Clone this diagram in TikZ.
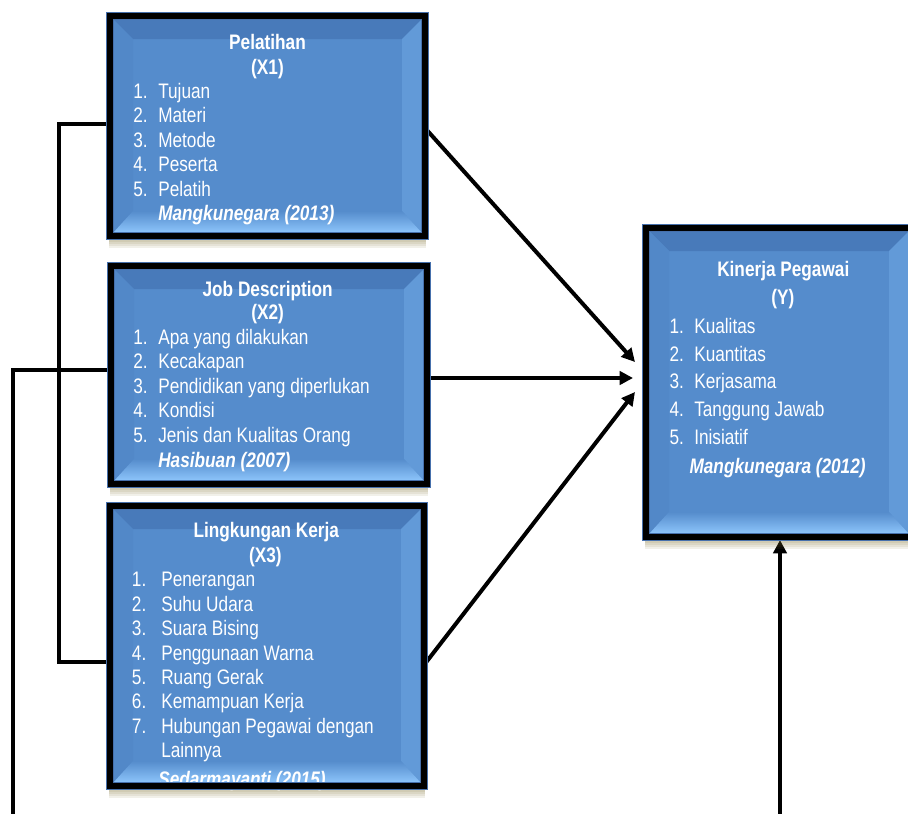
\documentclass[tikz,border=0pt]{standalone}
\usepackage{fontspec}
\setmainfont{Liberation Sans}[FakeStretch=0.82]
\usetikzlibrary{arrows.meta,calc,fit}
\definecolor{face}{RGB}{85,140,204}
\definecolor{bevtop}{RGB}{72,122,186}
\definecolor{bevleft}{RGB}{82,136,200}
\definecolor{bevright}{RGB}{98,154,216}
\definecolor{bevlight}{RGB}{142,198,252}
\definecolor{edgeblue}{RGB}{70,112,172}
\definecolor{shadowc}{RGB}{120,105,40}

\newcommand\boxbody[1]{%
  \foreach \k in {2,4,...,12}{\fill[shadowc,opacity=0.1] ($(#1.north west)+(-1,20)$) rectangle ($(#1.south east)+(1,\k)$);}
  \coordinate (#1A) at ($(#1.north west)+(3,3)$);
  \coordinate (#1B) at ($(#1.north east)+(-3,3)$);
  \coordinate (#1C) at ($(#1.south east)+(-3,-3)$);
  \coordinate (#1D) at ($(#1.south west)+(3,-3)$);
  \coordinate (#1a) at ($(#1A)+(20,20)$);
  \coordinate (#1b) at ($(#1B)+(-20,20)$);
  \coordinate (#1c) at ($(#1C)+(-20,-22)$);
  \coordinate (#1d) at ($(#1D)+(20,-22)$);
  \fill[face] (#1A) rectangle (#1C);
  \fill[bevtop] (#1A)--(#1B)--(#1b)--(#1a)--cycle;
  \fill[bevleft] (#1A)--(#1a)--(#1d)--(#1D)--cycle;
  \fill[bevright] (#1B)--(#1b)--(#1c)--(#1C)--cycle;
  \shade[top color=face,bottom color=bevlight] (#1D)--(#1d)--(#1c)--(#1C)--cycle;
}
\newcommand\boxborder[1]{%
  \draw[edgeblue,line width=6pt] (#1.north west) rectangle (#1.south east);
  \draw[black,line width=4.5pt] (#1.north west) rectangle (#1.south east);
}

\begin{document}
\begin{tikzpicture}[x=0.75pt,y=-0.75pt,
  boxfit/.style={inner sep=0pt,outer sep=0pt},
  conn/.style={black,line width=3pt},
  arr/.style={conn,-{Triangle[length=10pt,width=10pt]}},
  txt/.style={text=white,inner sep=0pt,anchor=base west,font=\fontsize{15.75pt}{18pt}\selectfont},
  ttl/.style={text=white,inner sep=0pt,anchor=base,font=\fontsize{15.75pt}{18pt}\selectfont\bfseries},
  cite/.style={text=white,inner sep=0pt,anchor=base west,font=\fontsize{15.75pt}{18pt}\selectfont\bfseries\itshape}]
\useasboundingbox (0,0) rectangle (908,814);
\clip (0,0) rectangle (908,814);

% box frames (border centre lines)
\node[boxfit,fit={(110,16) (425,236)}] (x1) {};
\node[boxfit,fit={(111,266) (427,484)}] (x2) {};
\node[boxfit,fit={(110,506) (424,786)}] (x3) {};
\node[boxfit,fit={(646,228) (912,537)}] (ybox) {};

% connectors
\coordinate (lk1) at (59,124);
\coordinate (lk2) at (59,662);
\draw[conn] (x1.west |- lk1) -- (lk1) -- (lk2) -- (x3.west |- lk2);
\coordinate (fl1) at (13,370);
\coordinate (fl2) at (13,830);
\draw[conn] (x2.west |- fl1) -- (fl1) -- (fl2);
\coordinate (bt) at (780,830);
\draw[arr] (bt) -- ($(ybox.south -| bt)+(0,3)$);
\draw[arr] ($(x1.east)+(0,2)$) -- ($(ybox.west)+(-11,-20.5)$);
\draw[arr] ($(x2.east)+(0,3)$) -- ($(ybox.west)+(-13,-4.5)$);
\draw[arr] ($(x3.east)+(0,19)$) -- ($(ybox.west)+(-11,9.5)$);

% box bodies
\boxbody{x1}
\boxbody{x2}
\boxbody{x3}
\boxbody{ybox}

% X1 text
\node[ttl] (x1t1) at (267.5,49.3) {Pelatihan};
\node[ttl] (x1t2) at (267.5,74.3) {(X1)};
\foreach \t [count=\i] in {Tujuan,Materi,Metode,Peserta,Pelatih}{
  \node[txt] (x1n\i) at (133,{98.3+24.5*(\i-1)}) {\i.};
  \node[txt] (x1i\i) at (158,{98.3+24.5*(\i-1)}) {\t};
}
\node[cite] (x1c) at (158,220.7) {Mangkunegara (2013)};

% X2 text
\node[ttl] (x2t1) at (267.7,296) {Job Description};
\node[ttl] (x2t2) at (267.7,319.5) {(X2)};
\foreach \t [count=\i] in {Apa yang dilakukan,Kecakapan,Pendidikan yang diperlukan,Kondisi,Jenis dan Kualitas Orang}{
  \node[txt] (x2n\i) at (133,{344.3+24.5*(\i-1)}) {\i.};
  \node[txt] (x2i\i) at (158,{344.3+24.5*(\i-1)}) {\t};
}
\node[cite] (x2c) at (158,467.3) {Hasibuan (2007)};

% X3 text
\node[ttl] (x3t1) at (266.3,537.7) {Lingkungan Kerja};
\node[ttl] (x3t2) at (265.3,562.7) {(X3)};
\foreach \t [count=\i] in {Penerangan,Suhu Udara,Suara Bising,Penggunaan Warna,Ruang Gerak,Kemampuan Kerja,Hubungan Pegawai dengan}{
  \node[txt] (x3n\i) at (131.7,{586.7+24.45*(\i-1)}) {\i.};
  \node[txt] (x3i\i) at (161,{586.7+24.45*(\i-1)}) {\t};
}
\node[txt] (x3i8) at (161,757.7) {Lainnya};
\node[cite] (x3c) at (158,786) {Sedarmayanti (2015)};

% Y text
\node[ttl] (yt1) at (783.3,276) {Kinerja Pegawai};
\node[ttl] (yt2) at (782.8,304) {(Y)};
\foreach \t [count=\i] in {Kualitas,Kuantitas,Kerjasama,Tanggung Jawab,Inisiatif}{
  \node[txt] (yn\i) at (669.3,{333.3+27.7*(\i-1)}) {\i.};
  \node[txt] (yi\i) at (694,{333.3+27.7*(\i-1)}) {\t};
}
\node[cite] (yc) at (689.3,473.3) {Mangkunegara (2012)};

% borders
\boxborder{x1}
\boxborder{x2}
\boxborder{x3}
\boxborder{ybox}
\end{tikzpicture}
\end{document}
